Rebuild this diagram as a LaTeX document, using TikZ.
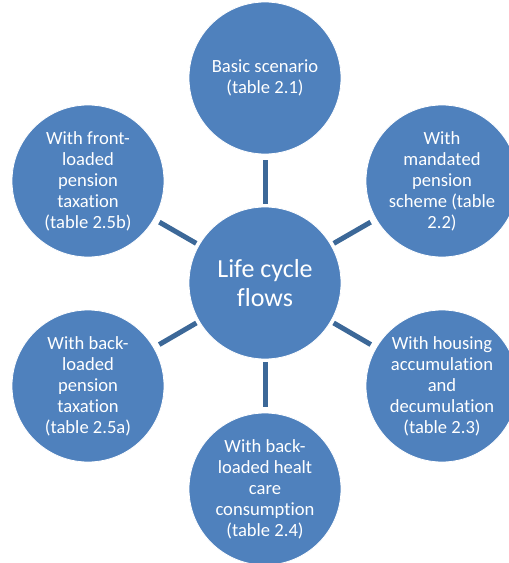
\documentclass[tikz,border=0pt]{standalone}
\usepackage{fontspec}
\setmainfont{Carlito}[Ligatures=NoCommon]
\definecolor{bubblue}{RGB}{79,129,189}
\definecolor{linkblue}{RGB}{60,104,152}
\begin{document}
\begin{tikzpicture}[x=1pt,y=-1pt,
  bub/.style={circle, fill=bubblue, draw=white, line width=0.8pt, minimum size=152pt, inner sep=0pt, align=center, text=white,
    font=\fontsize{18.6}{21}\selectfont},
  hub/.style={bub, font=\fontsize{26}{28.5}\selectfont},
  link/.style={draw=linkblue, line width=5pt, shorten <=3pt, shorten >=6pt}]
\useasboundingbox (0,0) rectangle (509,563);
\clip (0,0) rectangle (509,563);
\node[hub] (c) at (265,283) {Life cycle\\flows};
\node[bub] (t) at (265,78) {Basic scenario\\(table 2.1)};
\node[bub] (tr) at (442,181) {With\\mandated\\pension\\scheme (table\\2.2)};
\node[bub] (br) at (442,386) {With housing\\accumulation\\and\\decumulation\\(table 2.3)};
\node[bub] (b) at (265,489) {With back-\\loaded healt\\care\\consumption\\(table 2.4)};
\node[bub] (bl) at (88,386) {With back-\\loaded\\pension\\taxation\\(table 2.5a)};
\node[bub] (tl) at (88,181) {With front-\\loaded\\pension\\taxation\\(table 2.5b)};
\foreach \o in {t,tr,br,b,bl,tl}{\draw[link] (c) -- (\o);}
\end{tikzpicture}
\end{document}
